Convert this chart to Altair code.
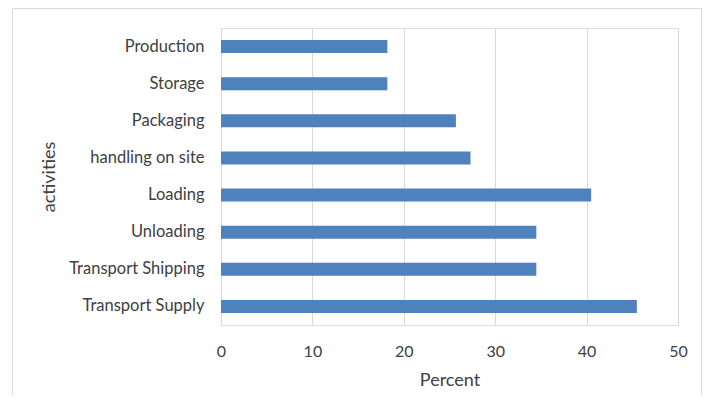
import altair as alt
import pandas as pd

activities = ["Production", "Storage", "Packaging", "handling on site",
              "Loading", "Unloading", "Transport Shipping", "Transport Supply"]
percent = [18.2, 18.2, 25.7, 27.3, 40.5, 34.5, 34.5, 45.5]

df = pd.DataFrame({"activities": activities, "Percent": percent})

FONT = "Lato"
LABEL = "#404040"

bars = alt.Chart(df).mark_bar(color="#4f81bd").encode(
    x=alt.X("Percent:Q",
            scale=alt.Scale(domain=[0, 50], nice=False),
            axis=alt.Axis(values=[0, 10, 20, 30, 40, 50], grid=True, domain=False,
                          ticks=False, labelPadding=18, labelFontSize=16,
                          labelFlush=False,
                          labelColor=LABEL, labelFont=FONT, title="Percent",
                          titleFont=FONT, titleFontSize=18, titleFontWeight="normal",
                          titleColor=LABEL, titleY=46, titleBaseline="top",
                          gridColor="#d9d9d9", gridWidth=1)),
    y=alt.Y("activities:N", sort=activities,
            scale=alt.Scale(paddingInner=0.65, paddingOuter=0.325),
            axis=alt.Axis(domain=True, domainColor="#d9d9d9", ticks=False,
                          labelPadding=17, labelFontSize=16.5, labelColor=LABEL,
                          labelFont=FONT, title="activities", titleFont=FONT,
                          titleFontSize=18, titleFontWeight="normal",
                          titleColor=LABEL, titlePadding=11,
                          minExtent=152, maxExtent=152)),
)

frame_df = pd.DataFrame({"k": [0]})
frame = alt.Chart(frame_df).mark_rect(filled=False, stroke="#d9d9d9", strokeWidth=1).encode(
    x=alt.value(-208.5), x2=alt.value(480.5), y=alt.value(-19.5), y2=alt.value(420)
)

chart = alt.layer(frame, bars).properties(
    width=457, height=297,
    autosize=alt.AutoSizeParams(type="none"),
    padding={"left": 213, "top": 20, "right": 25, "bottom": 70},
).configure_view(stroke=None).configure(background="white")

chart.save("out.html", embed_options={"renderer": "svg", "actions": False})
